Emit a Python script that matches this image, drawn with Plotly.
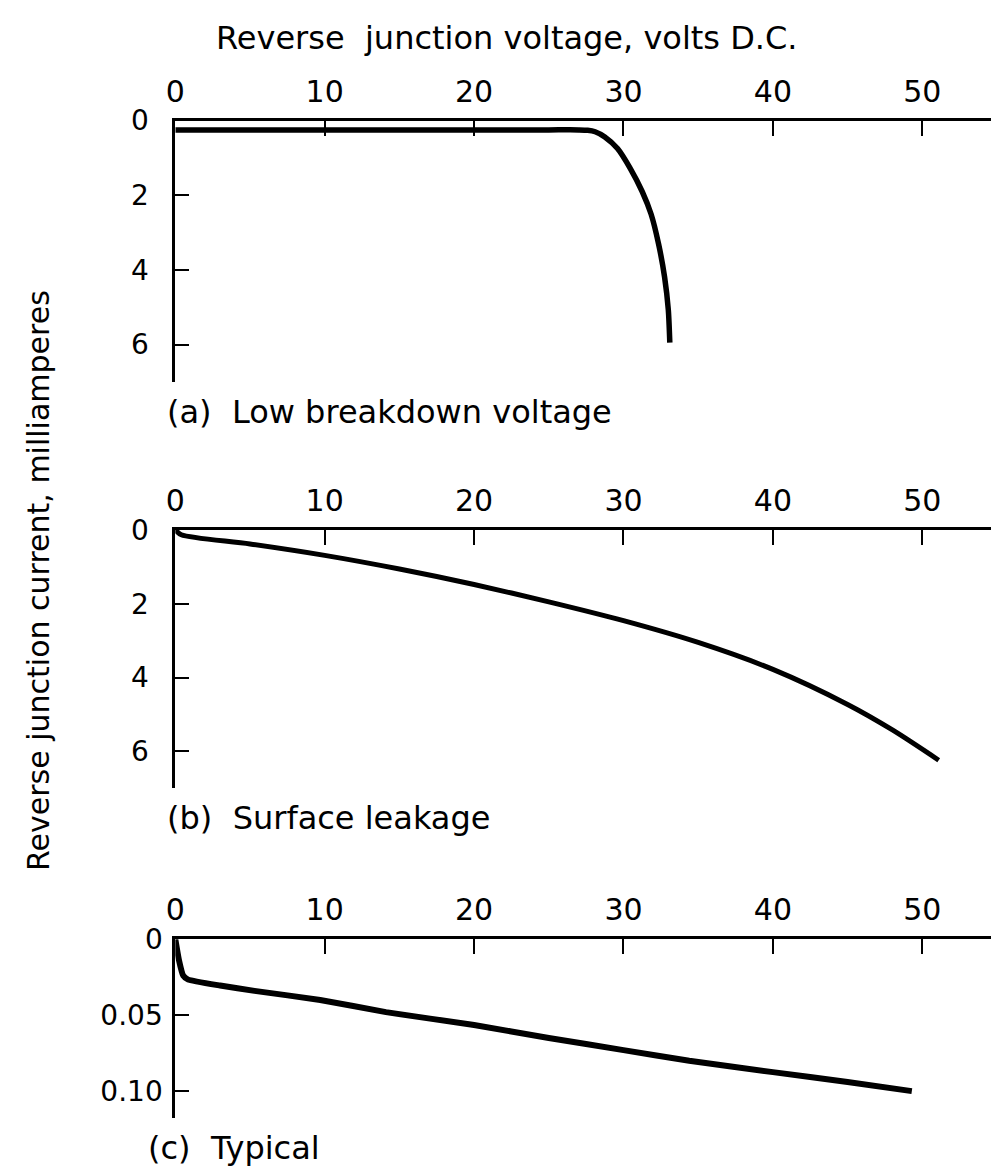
import plotly.graph_objects as go

# ---------------- data ----------------
volt_ticks = [0, 10, 20, 30, 40, 50]
volt_tick_text = ["0", "10", "20", "30", "40", "50"]

# (a) Low breakdown voltage
va = [0, 5, 10, 15, 20, 25, 27.0, 27.6, 28.1, 28.75, 29.6, 30.45, 31.25, 31.85, 32.35, 32.75, 33.0, 33.1]
ia = [0.25, 0.25, 0.25, 0.25, 0.25, 0.25, 0.25, 0.26, 0.30, 0.44, 0.75, 1.28, 1.90, 2.51, 3.31, 4.19, 5.07, 5.95]
ma_ticks = [0, 2, 4, 6]
ma_tick_text = ["0", "2", "4", "6"]

# (b) Surface leakage
vb = [0, 0.4, 5, 10, 15, 20, 25, 30, 35, 40, 45, 48, 51.1]
ib = [0, 0.13, 0.38, 0.69, 1.06, 1.48, 1.95, 2.46, 3.05, 3.78, 4.73, 5.42, 6.24]

# (c) Typical
vc = [0, 0.24, 0.53, 0.86, 3.0, 5.3, 9.7, 14.1, 20, 25, 30, 34.4, 40, 45, 49.3]
ic = [0, 0.0136, 0.024, 0.0266, 0.0305, 0.034, 0.040, 0.048, 0.0565, 0.0650, 0.0730, 0.0800, 0.0875, 0.0940, 0.100]
mc_ticks = [0, 0.05, 0.10]
mc_tick_text = ["0", "0.05", "0.10"]

title_x = "Reverse  junction voltage, volts D.C."
title_y = "Reverse junction current, milliamperes"
panel_labels = ["(a)  Low breakdown voltage", "(b)  Surface leakage", "(c)  Typical"]

# ---------------- figure ----------------
W, H = 991, 1170
FONT = "DejaVu Sans"
BLACK = "#000000"


def py(px):
    return 1 - px / H


x_dom = [167 / W, 1.0]
x_range = [0, 54.6]

fig = go.Figure()
fig.add_trace(go.Scatter(x=va, y=ia, mode="lines", xaxis="x", yaxis="y",
                         line=dict(color=BLACK, width=5.5, shape="spline", smoothing=0.7),
                         showlegend=False, hoverinfo="skip"))
fig.add_trace(go.Scatter(x=vb, y=ib, mode="lines", xaxis="x2", yaxis="y2",
                         line=dict(color=BLACK, width=5, shape="spline", smoothing=0.8),
                         showlegend=False, hoverinfo="skip"))
fig.add_trace(go.Scatter(x=vc, y=ic, mode="lines", xaxis="x3", yaxis="y3",
                         line=dict(color=BLACK, width=6, shape="spline", smoothing=0.4),
                         showlegend=False, hoverinfo="skip"))


def xax(anchor):
    return dict(domain=x_dom, range=x_range, anchor=anchor, side="top",
                showline=True, linecolor=BLACK, linewidth=3,
                ticks="inside", ticklen=15, tickwidth=2, tickcolor=BLACK,
                tickvals=volt_ticks, ticktext=volt_tick_text,
                tickfont=dict(family=FONT, size=30, color=BLACK),
                ticklabelstandoff=4,
                showgrid=False, zeroline=False, fixedrange=True)


def yax(anchor, dom, rng, tv, tt, standoff):
    return dict(domain=dom, range=rng, anchor=anchor,
                showline=True, linecolor=BLACK, linewidth=3,
                ticks="inside", ticklen=14, tickwidth=2, tickcolor=BLACK,
                tickvals=tv, ticktext=tt,
                tickfont=dict(family=FONT, size=28, color=BLACK),
                ticklabelstandoff=standoff,
                showgrid=False, zeroline=False, fixedrange=True)


fig.update_layout(
    width=W, height=H,
    margin=dict(l=0, r=0, t=0, b=0),
    paper_bgcolor="white", plot_bgcolor="white",
    xaxis=xax("y"),
    xaxis2=xax("y2"),
    xaxis3=xax("y3"),
    yaxis=yax("x", [py(371), py(106)], [7, 0], ma_ticks, ma_tick_text, 18),
    yaxis2=yax("x2", [py(783), py(521)], [7, 0], ma_ticks, ma_tick_text, 18),
    yaxis3=yax("x3", [py(1117), py(936)], [0.1175, 0], mc_ticks, mc_tick_text, 4),
    font=dict(family=FONT, color=BLACK),
)

annotations = [
    dict(text=title_x, x=502 / W, y=py(22), xref="paper", yref="paper",
         xanchor="center", yanchor="middle", showarrow=False,
         font=dict(family=FONT, size=32, color=BLACK)),
    dict(text=title_y, x=28 / W, y=py(572), xref="paper", yref="paper",
         xanchor="center", yanchor="middle", showarrow=False, textangle=-90,
         font=dict(family=FONT, size=30, color=BLACK)),
]
for lab, cx, cy in zip(panel_labels, [157, 157, 137], [401, 813, 1148]):
    annotations.append(dict(text=lab, x=cx / W, y=py(cy), xref="paper", yref="paper",
                            xanchor="left", yanchor="middle", showarrow=False,
                            font=dict(family=FONT, size=32, color=BLACK)))
fig.update_layout(annotations=annotations)

fig.write_html("out.html")
